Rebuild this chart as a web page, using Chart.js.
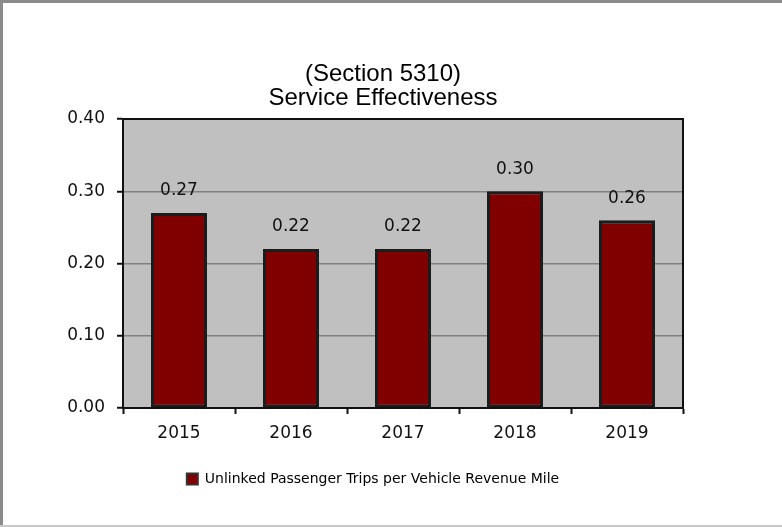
<!DOCTYPE html>
<html>
<head>
<meta charset="utf-8">
<script src="https://cdn.jsdelivr.net/npm/chart.js@4/dist/chart.umd.min.js"></script>
<style>
  html, body { margin: 0; padding: 0; background: #ffffff; }
  #wrap { width: 782px; height: 527px; position: relative; }
</style>
</head>
<body>
<div id="wrap"><canvas id="c" width="782" height="527"></canvas></div>
<script>
const categories = ['2015', '2016', '2017', '2018', '2019'];
const seriesName = 'Unlinked Passenger Trips per Vehicle Revenue Mile';
const seriesValues = [0.27, 0.22, 0.22, 0.30, 0.26];
const titleLines = ['(Section 5310)', 'Service Effectiveness'];
const yTicks = [0.00, 0.10, 0.20, 0.30, 0.40];

const BAR_FILL = '#800000';
const BAR_EDGE = '#1c1c1c';
const PLOT_BG = '#c0c0c0';
const GRID = '#808080';
const TICK_FONT = { family: "'DejaVu Sans', Verdana, sans-serif", size: 17 };

const frameAndBackground = {
  id: 'frameAndBackground',
  afterLayout(chart) {
    if (chart.legend) {
      chart.legend.left -= 10;
      chart.legend.right -= 10;
    }
  },
  beforeDraw(chart) {
    const ctx = chart.ctx;
    const a = chart.chartArea;
    ctx.save();
    ctx.fillStyle = '#ffffff';
    ctx.fillRect(0, 0, chart.width, chart.height);
    ctx.fillStyle = '#8a8a8a';
    ctx.fillRect(0, 0, 3, chart.height);
    ctx.fillRect(0, 0, chart.width, 3);
    ctx.fillStyle = '#c8c8c8';
    ctx.fillRect(0, chart.height - 2, chart.width, 2);
    ctx.fillStyle = PLOT_BG;
    ctx.fillRect(a.left, a.top, a.right - a.left, a.bottom - a.top);
    ctx.restore();
  },
  afterDatasetsDraw(chart) {
    const ctx = chart.ctx;
    const a = chart.chartArea;
    ctx.save();
    ctx.strokeStyle = '#111111';
    ctx.lineWidth = 2;
    ctx.beginPath();
    ctx.moveTo(a.left, a.top);
    ctx.lineTo(a.right, a.top);
    ctx.lineTo(a.right, a.bottom);
    ctx.stroke();
    const meta = chart.getDatasetMeta(0);
    ctx.fillStyle = '#111111';
    ctx.font = "17px 'DejaVu Sans', Verdana, sans-serif";
    ctx.textAlign = 'center';
    ctx.textBaseline = 'middle';
    meta.data.forEach((bar, i) => {
      const v = chart.data.datasets[0].data[i];
      ctx.fillText(v.toFixed(2), bar.x, bar.y - 22);
    });
    ctx.restore();
  }
};

new Chart(document.getElementById('c'), {
  type: 'bar',
  data: {
    labels: categories,
    datasets: [{
      label: seriesName,
      data: seriesValues,
      backgroundColor: BAR_FILL,
      borderColor: BAR_EDGE,
      borderWidth: 3,
      borderSkipped: false,
      categoryPercentage: 1.0,
      barPercentage: 0.5
    }]
  },
  options: {
    responsive: false,
    animation: false,
    devicePixelRatio: 1,
    layout: { padding: { left: 0, right: 16, top: 0, bottom: 31 } },
    plugins: {
      title: {
        display: true,
        text: titleLines,
        color: '#000000',
        font: { family: "'Liberation Sans', Arial, sans-serif", size: 24, weight: 'normal', lineHeight: 1.0 },
        padding: { top: 62, bottom: 9 }
      },
      legend: {
        display: true,
        position: 'bottom',
        labels: {
          color: '#222222',
          font: { family: "'DejaVu Sans', Verdana, sans-serif", size: 14 },
          boxWidth: 11,
          boxHeight: 11,
          padding: 10,
          generateLabels(chart) {
            return chart.data.datasets.map((ds, i) => ({
              text: ds.label,
              fillStyle: ds.backgroundColor,
              strokeStyle: '#333333',
              lineWidth: 2,
              datasetIndex: i,
              hidden: false
            }));
          }
        }
      },
      tooltip: { enabled: false }
    },
    scales: {
      x: {
        offset: true,
        grid: {
          display: true,
          offset: true,
          drawOnChartArea: false,
          drawTicks: true,
          tickLength: 6,
          tickWidth: 2,
          tickColor: '#111111'
        },
        border: { display: true, color: '#111111', width: 2 },
        ticks: { color: '#111111', font: TICK_FONT, padding: 9 },
        afterFit(scale) { scale.height = 54; }
      },
      y: {
        min: 0,
        max: 0.4,
        afterBuildTicks(scale) { scale.ticks = yTicks.map(v => ({ value: v })); },
        grid: {
          color: GRID,
          lineWidth: 1.5,
          drawTicks: true,
          tickLength: 6,
          tickWidth: 2,
          tickColor: '#111111'
        },
        border: { display: true, color: '#111111', width: 2 },
        ticks: {
          color: '#111111',
          font: TICK_FONT,
          padding: 12,
          callback: (v) => Number(v).toFixed(2)
        },
        afterFit(scale) { scale.width = 123; }
      },
      spacer: {
        type: 'linear',
        position: 'right',
        display: true,
        grid: { display: false, drawOnChartArea: false, drawTicks: false },
        border: { display: false },
        ticks: { display: false },
        afterFit(scale) { scale.width = 83; }
      }
    }
  },
  plugins: [frameAndBackground]
});
</script>
</body>
</html>
